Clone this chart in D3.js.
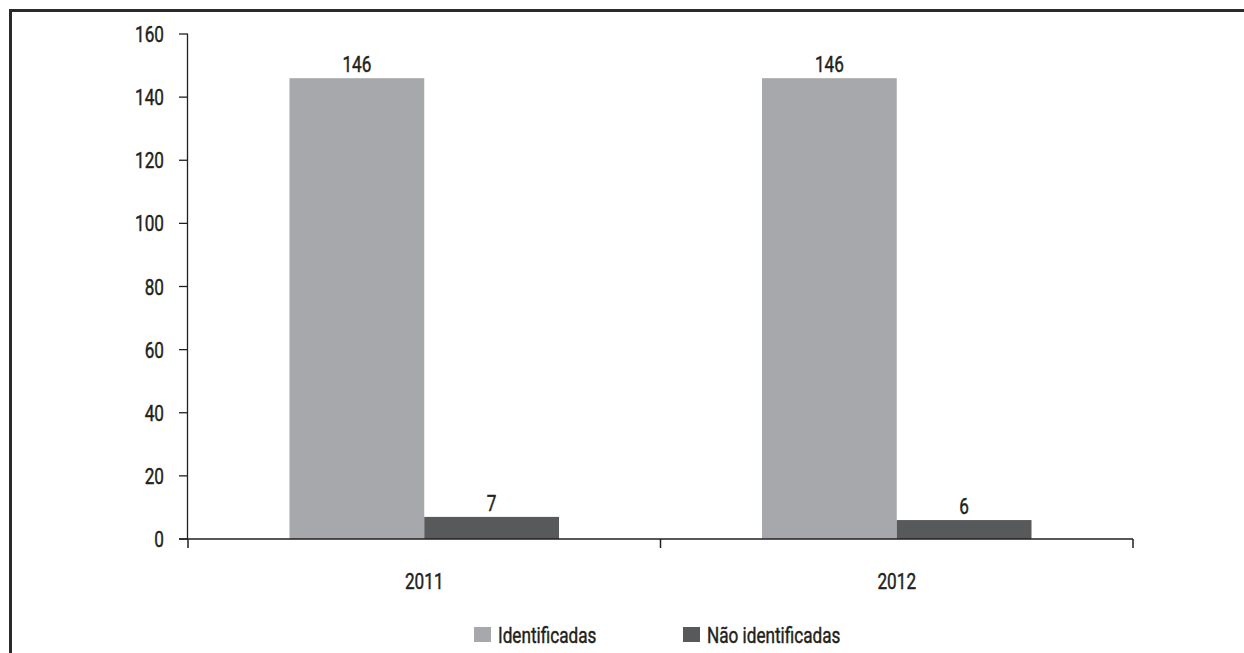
<!DOCTYPE html>
<html>
<head>
<meta charset="utf-8">
<script src="https://cdn.jsdelivr.net/npm/d3@7"></script>
<style>
  html, body { margin: 0; padding: 0; background: #fff; }
  svg { display: block; }
  text { font-family: Roboto, "Liberation Sans", sans-serif; font-weight: 400; fill: #231f20; stroke: #231f20; stroke-width: 0.45px; }
</style>
</head>
<body>
<svg id="chart" width="1244" height="653"></svg>
<script>
// Data
const years = ["2011", "2012"];
const seriesNames = ["Identificadas", "Não identificadas"];
const identificadas = [146, 146];
const naoIdentificadas = [7, 6];
const yTicks = [0, 20, 40, 60, 80, 100, 120, 140, 160];

const seriesColors = ["#a7a8ab", "#58595b"];

const FONT_SIZE = 22;
const SQUEEZE = 0.78; // horizontal compression for a condensed look

const svg = d3.select("#chart");
const W = 1244, H = 653;

// Places a horizontally condensed label at (x, y)
function condensedText(parent, x, y, str, anchor) {
  return parent.append("text")
    .attr("transform", `translate(${x},${y}) scale(${SQUEEZE},1)`)
    .attr("text-anchor", anchor || "start")
    .attr("font-size", FONT_SIZE)
    .text(str);
}

// Frame lines (top and left)
svg.append("path")
  .attr("d", `M10.5,${H} V10.5 H${W}`)
  .attr("fill", "none")
  .attr("stroke", "#2a2a2a")
  .attr("stroke-width", 3);

const plot = { left: 188, right: 1133, top: 34, bottom: 539 };

const x0 = d3.scaleBand().domain(years).range([plot.left, plot.right]);
const x1 = d3.scaleBand().domain(seriesNames).range([101.5, x0.bandwidth() - 101.5]);
const y = d3.scaleLinear().domain([0, 160]).range([plot.bottom, plot.top]);

const rows = years.map((yr, i) => ({ year: yr, values: [identificadas[i], naoIdentificadas[i]] }));

// Bars with value labels
const groups = svg.append("g").selectAll("g")
  .data(rows).join("g")
  .attr("transform", d => `translate(${x0(d.year)},0)`);

groups.each(function (d) {
  const g = d3.select(this);
  d.values.forEach((v, k) => {
    const key = seriesNames[k];
    g.append("rect")
      .attr("x", x1(key))
      .attr("width", x1.bandwidth())
      .attr("y", y(v))
      .attr("height", y(0) - y(v))
      .attr("fill", seriesColors[k]);
    condensedText(g, x1(key) + x1.bandwidth() / 2, y(v) - 6, v, "middle");
  });
});

// Y axis
const yAxis = svg.append("g").attr("transform", `translate(${plot.left},0)`);
yAxis.append("line")
  .attr("x1", -0.5).attr("x2", -0.5)
  .attr("y1", plot.top).attr("y2", plot.bottom)
  .attr("stroke", "#231f20").attr("stroke-width", 1.3);
yAxis.selectAll("line.tk")
  .data(yTicks).join("line")
  .attr("class", "tk")
  .attr("x1", -9).attr("x2", 0)
  .attr("y1", d => y(d)).attr("y2", d => y(d))
  .attr("stroke", "#231f20").attr("stroke-width", 1.3);
yTicks.forEach(t => condensedText(yAxis, -24, y(t) + 8, t, "end"));

// X axis
const xAxis = svg.append("g").attr("transform", `translate(0,${plot.bottom})`);
xAxis.append("line")
  .attr("x1", plot.left - 9).attr("x2", plot.right)
  .attr("stroke", "#231f20").attr("stroke-width", 1.5);
const xTickPos = [plot.left, ...years.map(d => x0(d) + x0.bandwidth())];
xAxis.selectAll("line.tk")
  .data(xTickPos).join("line")
  .attr("class", "tk")
  .attr("x1", d => d).attr("x2", d => d)
  .attr("y1", 0).attr("y2", 9)
  .attr("stroke", "#231f20").attr("stroke-width", 1.5);
years.forEach(yr => condensedText(xAxis, x0(yr) + x0.bandwidth() / 2, 50, yr, "middle"));

// Legend
const legendX = [474, 683];
const legend = svg.append("g");
seriesNames.forEach((name, k) => {
  legend.append("rect")
    .attr("x", legendX[k]).attr("y", 627)
    .attr("width", 17).attr("height", 15)
    .attr("fill", seriesColors[k]);
  condensedText(legend, legendX[k] + 24, 643, name, "start");
});
</script>
</body>
</html>
